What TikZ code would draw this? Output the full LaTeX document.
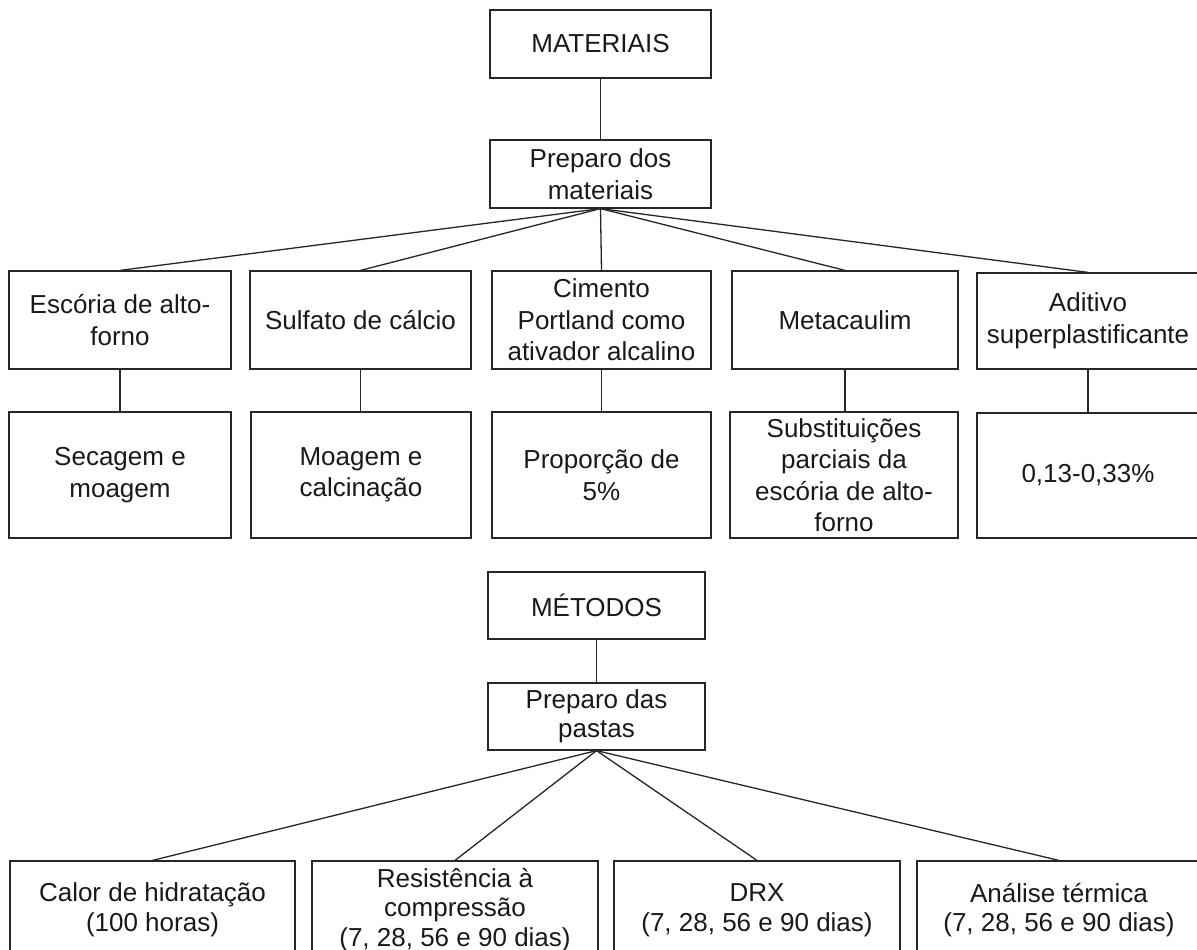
\documentclass[tikz,border=0pt]{standalone}
\usepackage{fontspec}
\setmainfont{Liberation Sans}
\begin{document}
\begin{tikzpicture}[x=1pt,y=-1pt,
  box/.style={draw=black!85, line width=1.2pt, inner sep=0pt, align=center, text=black!90,
              font=\fontsize{26}{31.5}\selectfont},
  mbox/.style={box, font=\fontsize{26}{29.5}\selectfont},
  link/.style={draw=black!85, line width=1.3pt}]
\useasboundingbox (0,0) rectangle (1197,950);
% MATERIAIS
\node[box, minimum width=221pt, minimum height=68pt] (mat) at (600.5,44) {MATERIAIS};
\node[box, minimum width=221pt, minimum height=68pt] (pm) at (600.5,174) {Preparo dos\\materiais};
% row 3
\node[box, minimum width=222pt, minimum height=98pt] (esc) at (120,320) {Escória de alto-\\forno};
\node[box, minimum width=221pt, minimum height=98pt] (sul) at (360.5,320) {Sulfato de cálcio};
\node[box, minimum width=219pt, minimum height=98pt] (cim) at (601.5,320) {Cimento\\Portland como\\ativador alcalino};
\node[box, minimum width=226pt, minimum height=98pt] (met) at (845,320) {Metacaulim};
\node[box, minimum width=222pt, minimum height=96pt] (adi) at (1088,321) {Aditivo\\superplastificante};
% row 4
\node[box, minimum width=222pt, minimum height=126pt] (sec) at (120,475) {Secagem e\\moagem};
\node[box, minimum width=220pt, minimum height=126pt] (moa) at (361,475) {Moagem e\\calcinação};
\node[box, minimum width=219pt, minimum height=126pt] (pro) at (601.5,475) {Proporção de\\5\%};
\node[box, minimum width=228pt, minimum height=126pt] (sub) at (844,475) {Substituições\\parciais da\\escória de alto-\\forno};
\node[box, minimum width=222pt, minimum height=125pt] (per) at (1088,475.5) {0,13-0,33\%};
% MÉTODOS
\node[mbox, minimum width=217pt, minimum height=67pt] (met2) at (596.5,605.5) {MÉTODOS};
\node[mbox, minimum width=217pt, minimum height=67pt] (pp) at (596.5,716.5) {Preparo das\\pastas};
\node[mbox, minimum width=285pt, minimum height=98pt] (cal) at (152.5,910) {Calor de hidratação\\(100 horas)};
\node[mbox, minimum width=286pt, minimum height=98pt] (res) at (455,910) {Resistência à\\compressão\\(7, 28, 56 e 90 dias)};
\node[mbox, minimum width=286pt, minimum height=98pt] (drx) at (757,910) {DRX\\(7, 28, 56 e 90 dias)};
\node[mbox, minimum width=284pt, minimum height=98pt] (ana) at (1059,910) {Análise térmica\\(7, 28, 56 e 90 dias)};
% connectors
\path[link] (mat.south) -- (pm.north);
\foreach \n in {esc,sul,cim,met,adi} { \path[link] (pm.south) -- (\n.north); }
\path[link] (esc.south) -- (sec.north -| esc.south);
\path[link] (sul.south) -- (moa.north -| sul.south);
\path[link] (cim.south) -- (pro.north -| cim.south);
\path[link] (met.south) -- (sub.north -| met.south);
\path[link] (adi.south) -- (per.north -| adi.south);
\path[link] (met2.south) -- (pp.north);
\foreach \n in {cal,res,drx,ana} { \path[link] (pp.south) -- (\n.north); }
\end{tikzpicture}
\end{document}
